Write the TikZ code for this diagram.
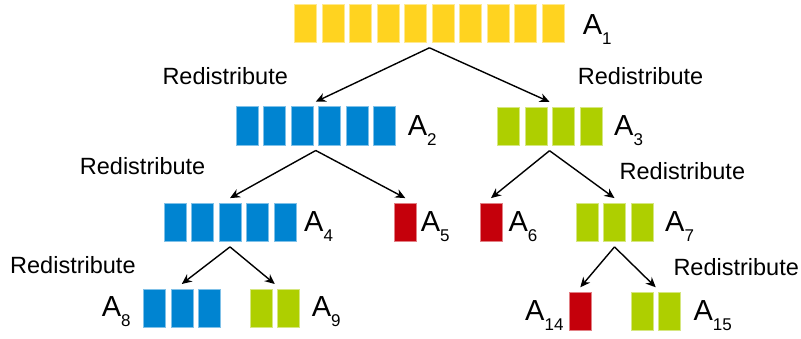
\documentclass[tikz,border=0pt]{standalone}
\usepackage{fontspec}
\setmainfont{Liberation Sans}
\usetikzlibrary{arrows.meta}

\definecolor{cyellow}{HTML}{FFD320}
\definecolor{cblue}{HTML}{0084D1}
\definecolor{cgreen}{HTML}{AECF00}
\definecolor{cred}{HTML}{C5000B}

% one array: name, left x, top y, number of cells, colour
\newcommand\cellrow[5]{%
  \foreach \k in {1,...,#4} {
    \fill[#5, draw=#5!50!white, line width=0.6pt]
      ({#2+(\k-1)*27.5}, #3) rectangle ++(22, 38.3);
  }
  \node[inner sep=0, outer sep=0, anchor=north west,
        minimum width={(#4-1)*27.5pt+22pt}, minimum height=38.3pt]
        (#1) at (#2, #3) {};
}
\newcommand\subidx[1]{\raisebox{-10pt}{\fontsize{17}{20}\selectfont #1}}

\begin{document}
\begin{tikzpicture}[x=1pt, y=-1pt,
  arrname/.style={font=\fontsize{29}{34}\selectfont, inner sep=0, anchor=base west},
  redist/.style={font=\fontsize{23.5}{28}\selectfont, inner sep=0, anchor=base west},
  split/.style={-{Stealth[length=10pt, width=9pt]}, line width=1.4pt, black}]
  \useasboundingbox (0,0) rectangle (801,339);

  % arrays
  \cellrow{a1}{294.7}{4}{10}{cyellow}
  \cellrow{a2}{236}{106.7}{6}{cblue}
  \cellrow{a3}{497.3}{106.9}{4}{cgreen}
  \cellrow{a4}{164}{203.1}{5}{cblue}
  \cellrow{a5}{394.3}{203.1}{1}{cred}
  \cellrow{a6}{480}{203.1}{1}{cred}
  \cellrow{a7}{576}{203.1}{3}{cgreen}
  \cellrow{a8}{143.3}{289}{3}{cblue}
  \cellrow{a9}{250}{289}{2}{cgreen}
  \cellrow{a14}{569.3}{292.3}{1}{cred}
  \cellrow{a15}{631}{292.3}{2}{cgreen}

  % array names
  \node[arrname] (n1) at (582.7, 35) {A\subidx{1}};
  \node[arrname] (n2) at (407.7, 135.5) {A\subidx{2}};
  \node[arrname] (n3) at (614, 135.5) {A\subidx{3}};
  \node[arrname] (n4) at (304, 231.6) {A\subidx{4}};
  \node[arrname] (n5) at (420.7, 231.6) {A\subidx{5}};
  \node[arrname] (n6) at (508.3, 231.6) {A\subidx{6}};
  \node[arrname] (n7) at (665, 231.6) {A\subidx{7}};
  \node[arrname] (n8) at (101.7, 316.7) {A\subidx{8}};
  \node[arrname] (n9) at (311.7, 316.7) {A\subidx{9}};
  \node[arrname] (n14) at (525, 320) {A\subidx{14}};
  \node[arrname] (n15) at (693.3, 320) {A\subidx{15}};

  % step labels
  \node[redist] (r1) at (162.3, 85) {Redistribute};
  \node[redist] (r2) at (577.7, 85) {Redistribute};
  \node[redist] (r3) at (79.7, 175) {Redistribute};
  \node[redist] (r4) at (619.5, 180) {Redistribute};
  \node[redist] (r5) at (10, 273.3) {Redistribute};
  \node[redist] (r6) at (673.3, 275.7) {Redistribute};

  % splits
  \foreach \p/\c in {a1/a2, a1/a3, a2/a4, a2/a5, a3/a6, a3/a7, a4/a8, a4/a9, a7/a14, a7/a15}
    \draw[split] ([yshift=-5.5pt]\p.south) -- ([yshift=5pt]\c.north);
\end{tikzpicture}
\end{document}
